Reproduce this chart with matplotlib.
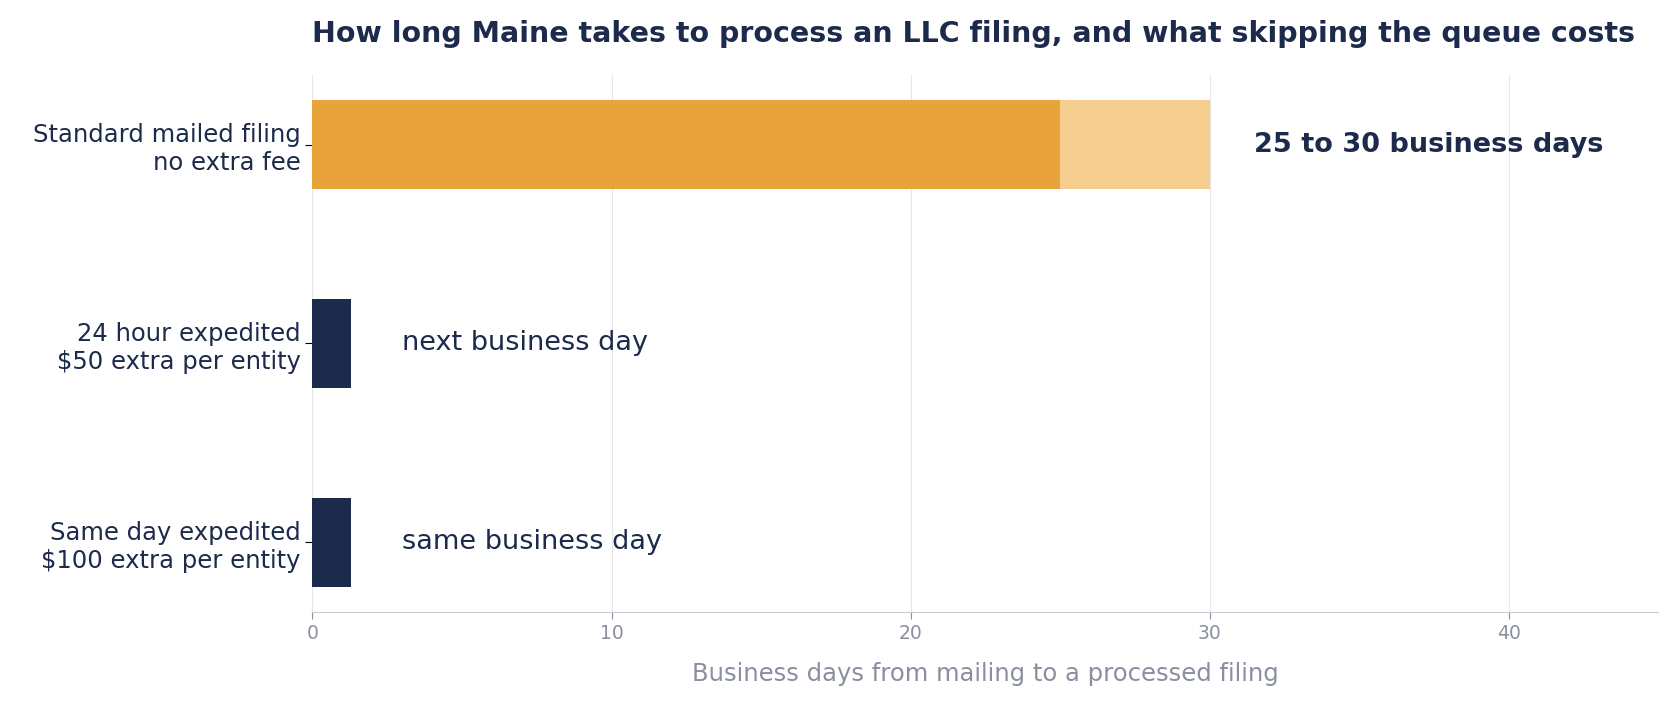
import matplotlib
matplotlib.use("Agg")
import matplotlib.pyplot as plt

categories = ["Standard mailed filing\nno extra fee", "24 hour expedited\n$50 extra per entity", "Same day expedited\n$100 extra per entity"]
base_days = [25, 1.3, 1.3]
extra_days = [5, 0, 0]
labels = ["25 to 30 business days", "next business day", "same business day"]

navy = "#1c2b4b"
fig = plt.figure(figsize=(16.8, 7.14), dpi=100)
ax = fig.add_axes([0.186, 0.143, 0.801, 0.752])
y = [2, 1, 0]
colors = ["#e8a33b", navy, navy]
ax.barh(y, base_days, height=0.45, color=colors, zorder=3)
ax.barh(y, extra_days, left=base_days, height=0.45, color="#f5cd8f", zorder=3)
for yi, b, e, lab in zip(y, base_days, extra_days, labels):
    if e > 0:
        ax.text(b + e + 1.5, yi, lab, va="center", ha="left", fontsize=19.5, fontweight="bold", color=navy)
    else:
        ax.text(3, yi, lab, va="center", ha="left", fontsize=19.5, color=navy)
ax.set_yticks(y)
ax.set_yticklabels(categories, fontsize=17.5, color=navy)
ax.set_xlim(0, 45)
ax.set_ylim(-0.35, 2.35)
ax.set_xticks([0, 10, 20, 30, 40])
ax.tick_params(axis="x", colors="#8a8fa0", labelsize=13.5, length=5)
ax.tick_params(axis="y", length=5)
ax.grid(axis="x", color="#e6e6e9", zorder=0)
for s in ["top", "right", "left"]:
    ax.spines[s].set_visible(False)
ax.spines["bottom"].set_color("#c8cbd3")
ax.set_xlabel("Business days from mailing to a processed filing", fontsize=17.5, color="#8a8fa0", labelpad=14)
ax.set_title("How long Maine takes to process an LLC filing, and what skipping the queue costs",
             loc="left", fontsize=20.5, fontweight="bold", color=navy, pad=24)
fig.savefig("out.png", dpi=100)
